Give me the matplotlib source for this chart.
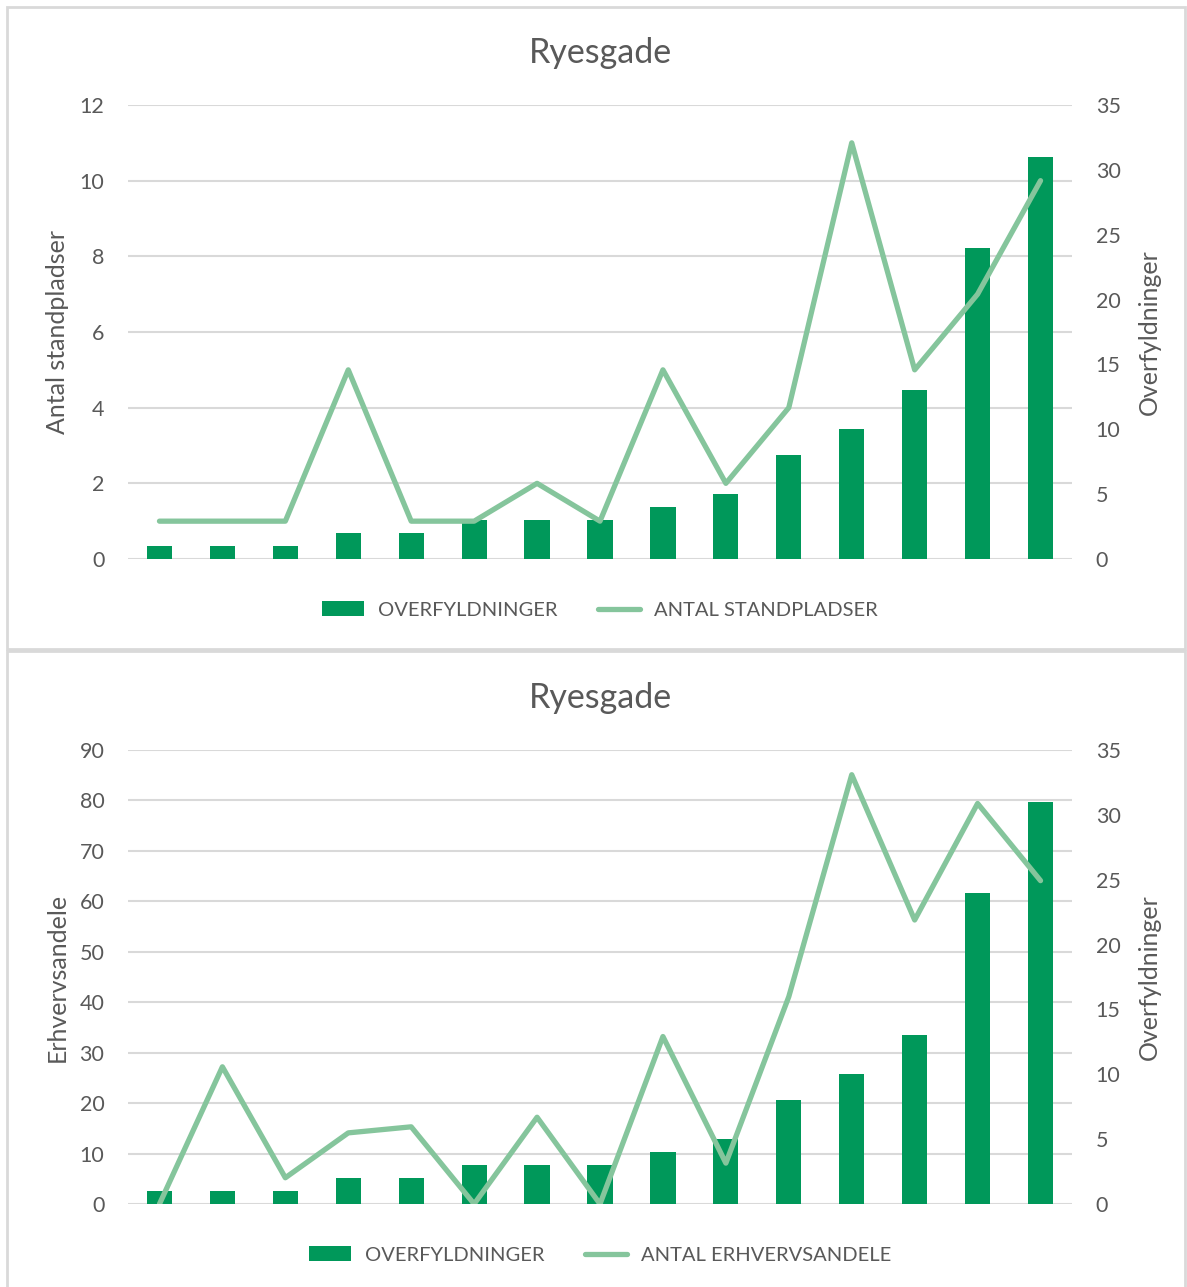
import matplotlib
matplotlib.use('Agg')
import matplotlib.pyplot as plt
import numpy as np
from matplotlib.patches import Rectangle

plt.rcParams['font.family'] = ['Lato', 'DejaVu Sans']

# ======== Data ========
title = "Ryesgade"
bar_label = "OVERFYLDNINGER"
overfyldninger = [1, 1, 1, 2, 2, 3, 3, 3, 4, 5, 8, 10, 13, 24, 31]
antal_standpladser = [1, 1, 1, 5, 1, 1, 2, 1, 5, 2, 4, 11, 5, 7, 10]
antal_erhvervsandele = [0, 27.2, 5.2, 14.1, 15.3, 0, 17.2, 0, 33.2, 8.1, 41.1, 85.1, 56.3, 79.4, 64.1]
right_ticks = [0, 5, 10, 15, 20, 25, 30, 35]
top_left_ticks = [0, 2, 4, 6, 8, 10, 12]
bottom_left_ticks = [0, 10, 20, 30, 40, 50, 60, 70, 80, 90]

# ======== Style ========
bar_color = "#00985A"
line_color = "#85C59C"
text_color = "#595959"
grid_color = "#D9D9D9"
tick_fs = 15.5
legend_fs = 14.5
label_fs = 18
title_fs = 24.5

W, H = 1187, 1287
fig = plt.figure(figsize=(W / 100, H / 100), dpi=100)

# chart frames
fig.patches.append(Rectangle((7 / W, 1 - 649 / H), 1178 / W, 642 / H, transform=fig.transFigure,
                             fill=False, edgecolor=grid_color, linewidth=2))
fig.patches.append(Rectangle((7 / W, -0.01), 1178 / W, (1 - 651 / H) + 0.01, transform=fig.transFigure,
                             fill=False, edgecolor=grid_color, linewidth=2))


def draw_panel(top_px, line_vals, left_ticks, left_label, line_label):
    x = np.arange(len(overfyldninger))
    rect = [128 / W, 1 - (top_px + 454) / H, 944 / W, 454 / H]

    # left axis: gridlines + ticks
    ax = fig.add_axes(rect)
    ax.set_ylim(left_ticks[0], left_ticks[-1])
    ax.set_yticks(left_ticks)
    ax.set_xlim(-0.5, len(x) - 0.5)
    ax.set_xticks([])
    ax.grid(axis='y', color=grid_color, linewidth=1.5)
    ax.set_axisbelow(True)
    for s in ax.spines.values():
        s.set_visible(False)
    ax.tick_params(axis='y', length=0, pad=17, labelsize=tick_fs, labelcolor=text_color)
    ax.set_ylabel(left_label, fontsize=label_fs, color=text_color)
    ax.yaxis.set_label_coords(-0.063, 0.5)

    # right axis: bars
    ax2 = ax.twinx()
    bars = ax2.bar(x, overfyldninger, width=0.4, color=bar_color, label=bar_label)
    ax2.set_ylim(right_ticks[0], right_ticks[-1])
    ax2.set_yticks(right_ticks)
    for s in ax2.spines.values():
        s.set_visible(False)
    ax2.tick_params(axis='y', length=0, pad=17, labelsize=tick_fs, labelcolor=text_color)
    ax2.set_ylabel("Overfyldninger", fontsize=label_fs, color=text_color)
    ax2.yaxis.set_label_coords(1.07, 0.5)

    # line on top, same scale as left axis
    ax3 = ax.twinx()
    line, = ax3.plot(x, line_vals, color=line_color, linewidth=3.8,
                     solid_capstyle='round', solid_joinstyle='round', label=line_label)
    ax3.set_ylim(ax.get_ylim())
    ax3.axis('off')

    fig.text(600 / W, 1 - (top_px - 52) / H, title, ha='center', va='center',
             fontsize=title_fs, color=text_color)

    leg = ax.legend([bars, line], [bar_label, line_label], loc='center',
                    bbox_to_anchor=(0.5, -51 / 454), ncol=2, frameon=False,
                    fontsize=legend_fs, handlelength=2.1, handletextpad=0.7,
                    columnspacing=2.0)
    for t in leg.get_texts():
        t.set_color(text_color)


draw_panel(105, antal_standpladser, top_left_ticks, "Antal standpladser", "ANTAL STANDPLADSER")
draw_panel(750, antal_erhvervsandele, bottom_left_ticks, "Erhvervsandele", "ANTAL ERHVERVSANDELE")

plt.savefig("out.png", dpi=100)
